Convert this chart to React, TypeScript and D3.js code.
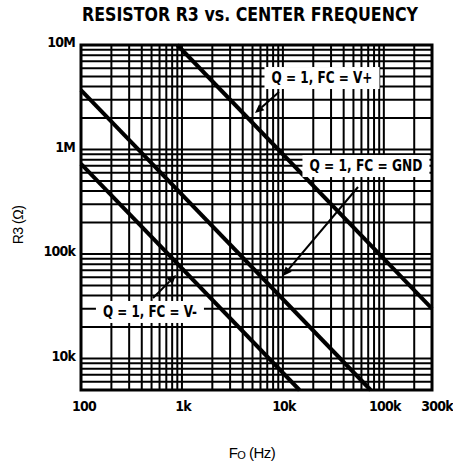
import React from "react";
import * as d3 from "d3";

const W = 453;
const H = 464;

const title = "RESISTOR R3 vs. CENTER FREQUENCY";
const xDomain = [100, 300000];
const yDomain = [5000, 10000000];
const xTickValues = [100, 1000, 10000, 100000, 300000];
const xTickLabels = ["100", "1k", "10k", "100k", "300k"];
const yTickValues = [10000000, 1000000, 100000, 10000];
const yTickLabels = ["10M", "1M", "100k", "10k"];

// series: R3 * f0 product (R3 = k / f0)
const seriesNames = ["Q = 1, FC = V+", "Q = 1, FC = GND", "Q = 1, FC = V-"];
const seriesK = [9e9, 3.7e8, 7.3e7];

// annotation label anchors (in data units: freq, resistance) and arrow tips
const labelPos = [
  [24400, 4830000],
  [66500, 695000],
  [482, 27900],
];
const arrowFrom = [
  [9150, 3550000],
  [55500, 438000],
  [517, 37900],
];
const arrowTo = [
  [5290, 2230000],
  [10000, 61700],
  [873, 63000],
];

export default function App() {
  const m = { left: 81, right: 432, top: 45, bottom: 390 };
  const x = d3.scaleLog().domain(xDomain).range([m.left, m.right]);
  const y = d3.scaleLog().domain(yDomain).range([m.bottom, m.top]);

  const vGrid: number[] = [];
  for (let e = 2; e <= 5; e++)
    for (let k = 1; k <= 9; k++) {
      const v = k * Math.pow(10, e);
      if (v > xDomain[0] && v < xDomain[1]) vGrid.push(v);
    }
  const hGrid: number[] = [];
  for (let e = 3; e <= 6; e++)
    for (let k = 1; k <= 9; k++) {
      const v = k * Math.pow(10, e);
      if (v > yDomain[0] && v < yDomain[1]) hGrid.push(v);
    }

  const lineGen = d3
    .line<[number, number]>()
    .x((d) => x(d[0]))
    .y((d) => y(d[1]));

  const seriesPts = seriesK.map((k) => {
    let f0 = xDomain[0];
    let r0 = k / f0;
    if (r0 > yDomain[1]) {
      r0 = yDomain[1];
      f0 = k / r0;
    }
    let f1 = xDomain[1];
    let r1 = k / f1;
    if (r1 < yDomain[0]) {
      r1 = yDomain[0];
      f1 = k / r1;
    }
    return [
      [f0, r0],
      [f1, r1],
    ] as [number, number][];
  });

  const bold = "'Liberation Sans Narrow', 'DejaVu Sans Condensed', 'Liberation Sans', sans-serif";
  const reg = "'Liberation Sans', 'DejaVu Sans', sans-serif";

  const arrow = (i: number) => {
    const x1 = x(arrowFrom[i][0]);
    const y1 = y(arrowFrom[i][1]);
    const x2 = x(arrowTo[i][0]);
    const y2 = y(arrowTo[i][1]);
    const ang = Math.atan2(y2 - y1, x2 - x1);
    const L = 9;
    const Wd = 4;
    const bx = x2 - L * Math.cos(ang);
    const by = y2 - L * Math.sin(ang);
    const p1 = [bx + Wd * Math.sin(ang), by - Wd * Math.cos(ang)];
    const p2 = [bx - Wd * Math.sin(ang), by + Wd * Math.cos(ang)];
    return (
      <g key={"a" + i}>
        <line x1={x1} y1={y1} x2={bx} y2={by} stroke="#000" strokeWidth={2} />
        <polygon points={`${x2},${y2} ${p1[0]},${p1[1]} ${p2[0]},${p2[1]}`} fill="#000" />
      </g>
    );
  };

  const textW = [101, 113, 94];

  return (
    <svg width={W} height={H} style={{ position: "absolute", left: 0, top: 0, background: "#fff" }}>
      <text
        x={250}
        y={21}
        textAnchor="middle"
        fontFamily={bold}
        fontWeight="bold"
        fontSize={19}
        textLength={336}
        lengthAdjust="spacingAndGlyphs"
      >
        {title}
      </text>

      {vGrid.map((v) => (
        <line key={"v" + v} x1={x(v)} x2={x(v)} y1={m.top} y2={m.bottom} stroke="#000" strokeWidth={2} />
      ))}
      {hGrid.map((v) => (
        <line key={"h" + v} x1={m.left} x2={m.right} y1={y(v)} y2={y(v)} stroke="#000" strokeWidth={2} />
      ))}
      <rect
        x={m.left}
        y={m.top}
        width={m.right - m.left}
        height={m.bottom - m.top}
        fill="none"
        stroke="#000"
        strokeWidth={3}
      />

      {seriesPts.map((p, i) => (
        <path key={"s" + i} d={lineGen(p) || ""} stroke="#000" strokeWidth={4} fill="none" />
      ))}

      {seriesNames.map((n, i) => {
        const cx = x(labelPos[i][0]);
        const cy = y(labelPos[i][1]);
        const bw = textW[i] + 14;
        return (
          <g key={"l" + i}>
            <rect x={cx - bw / 2} y={cy - 11} width={bw} height={22} fill="#fff" />
            <text
              x={cx}
              y={cy + 5}
              textAnchor="middle"
              fontFamily={bold}
              fontWeight="bold"
              fontSize={15}
              textLength={textW[i]}
              lengthAdjust="spacingAndGlyphs"
            >
              {n}
            </text>
          </g>
        );
      })}
      {seriesNames.map((_, i) => arrow(i))}

      {yTickValues.map((v, i) => (
        <text
          key={"yt" + v}
          x={75}
          y={y(v) + 2}
          textAnchor="end"
          fontFamily={bold}
          fontWeight="bold"
          fontSize={14}
          letterSpacing={-0.8}
        >
          {yTickLabels[i]}
        </text>
      ))}
      {xTickValues.map((v, i) => (
        <text
          key={"xt" + v}
          x={x(v) + (i === 0 ? 3 : i === 4 ? 5 : 1)}
          y={411}
          textAnchor="middle"
          fontFamily={bold}
          fontWeight="bold"
          fontSize={14}
          letterSpacing={-0.8}
        >
          {xTickLabels[i]}
        </text>
      ))}

      <text x={252} y={458} textAnchor="middle" fontFamily={reg} fontSize={15} letterSpacing={-0.5}>
        F<tspan fontSize={11} dy={1}>O</tspan>
        <tspan dy={-1}> (Hz)</tspan>
      </text>
      <text
        transform={`translate(23,225) rotate(-90)`}
        textAnchor="middle"
        fontFamily={reg}
        fontSize={14}
        letterSpacing={-0.5}
      >
        R3 (Ω)
      </text>
    </svg>
  );
}
